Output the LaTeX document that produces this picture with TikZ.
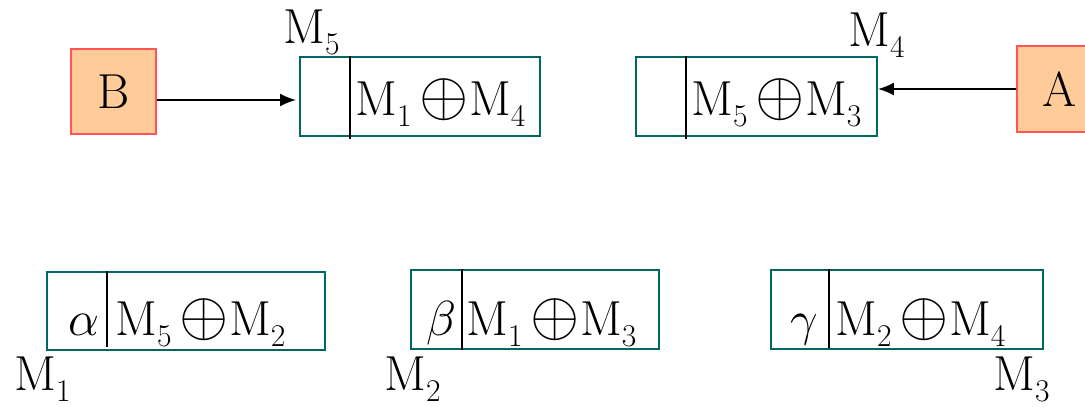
\RequirePackage{fix-cm}
\documentclass[tikz,border=0pt]{standalone}
\usepackage{fontspec}
\usepackage{xcolor}
\usetikzlibrary{arrows.meta, positioning, calc}

\definecolor{partyfill}{HTML}{FFCC99}
\definecolor{partyred}{HTML}{FF5555}
\definecolor{cellteal}{HTML}{006666}

\newcommand{\Msub}[1]{M\raisebox{-6.5pt}{\fontsize{18}{20}\selectfont #1}}
\newcommand{\xorsign}{\,{\fontsize{36}{40}\selectfont$\oplus$}}

\begin{document}
\begin{tikzpicture}[x=0.02cm, y=-0.02cm, font=\fontsize{28}{32}\selectfont]
    % Styles
    \tikzstyle{party} = [rectangle, draw=partyred, fill=partyfill, line width=1.1pt, minimum width=1.7cm, minimum height=1.7cm, inner sep=0pt]
    \tikzstyle{cell} = [rectangle, draw=cellteal, line width=1.1pt, minimum height=1.58cm, inner sep=0pt]
    \tikzstyle{txt} = [anchor=base west, inner sep=0pt]
    \tikzstyle{divider} = [draw, line width=0.9pt]
    \tikzstyle{line} = [draw, -{Latex[length=0.32cm, width=0.26cm]}, line width=1.1pt]

    \useasboundingbox (0,0) rectangle (1085,406);
    \clip (0,0) rectangle (1085,406);

    % Nodes
    \node [party] (B) at (113.5,91.5) {B};
    \node [cell, minimum width=4.8cm] (regB) at (420,96.5) {};
    \node [cell, minimum width=4.82cm] (regA) at (756.5,96.5) {};
    \node [party, minimum height=1.72cm] (A) at (1059.5,89) {A};

    \node [cell, minimum width=5.56cm, minimum height=1.56cm] (alpha) at (186,311) {};
    \node [cell, minimum width=4.96cm] (beta) at (535,309.5) {};
    \node [cell, minimum width=5.44cm] (gamma) at (907,309.5) {};

    % Contents
    \node [txt] (fB) at (355,115) {\Msub{1}\xorsign\Msub{4}};
    \node [txt] (fA) at (691,115) {\Msub{5}\xorsign\Msub{3}};
    \node [txt] (ka) at (68,335) {$\alpha$};
    \node [txt] (fa) at (115,335) {\Msub{5}\xorsign\Msub{2}};
    \node [txt] (kb) at (426,335) {$\beta$};
    \node [txt] (fb) at (466,335) {\Msub{1}\xorsign\Msub{3}};
    \node [txt] (kc) at (790,335) {$\gamma$};
    \node [txt] (fc) at (835,335) {\Msub{2}\xorsign\Msub{4}};

    % Labels
    \node [txt] (m5) at (283,43) {\Msub{5}};
    \node [txt] (m4) at (848,46) {\Msub{4}};
    \node [txt] (m1) at (14,390) {\Msub{1}};
    \node [txt] (m2) at (384,390) {\Msub{2}};
    \node [txt] (m3) at (993,390) {\Msub{3}};

    % Dividers
    \draw [divider] ([xshift=1.02cm]regB.north west) -- ([xshift=1.02cm, yshift=-0.04cm]regB.south west);
    \draw [divider] ([xshift=1.02cm]regA.north west) -- ([xshift=1.02cm, yshift=-0.04cm]regA.south west);
    \draw [divider] ([xshift=1.22cm]alpha.north west) -- ([xshift=1.22cm, yshift=0.08cm]alpha.south west);
    \draw [divider] ([xshift=1.04cm]beta.north west) -- ([xshift=1.04cm]beta.south west);
    \draw [divider] ([xshift=1.18cm]gamma.north west) -- ([xshift=1.18cm, yshift=0.04cm]gamma.south west);

    % Edges
    \draw [line] ([yshift=-0.17cm]B.east) -- ([xshift=-0.06cm, yshift=-0.07cm]regB.west);
    \draw [line] (A.west) -- ([yshift=0.15cm]regA.east);
\end{tikzpicture}
\end{document}
